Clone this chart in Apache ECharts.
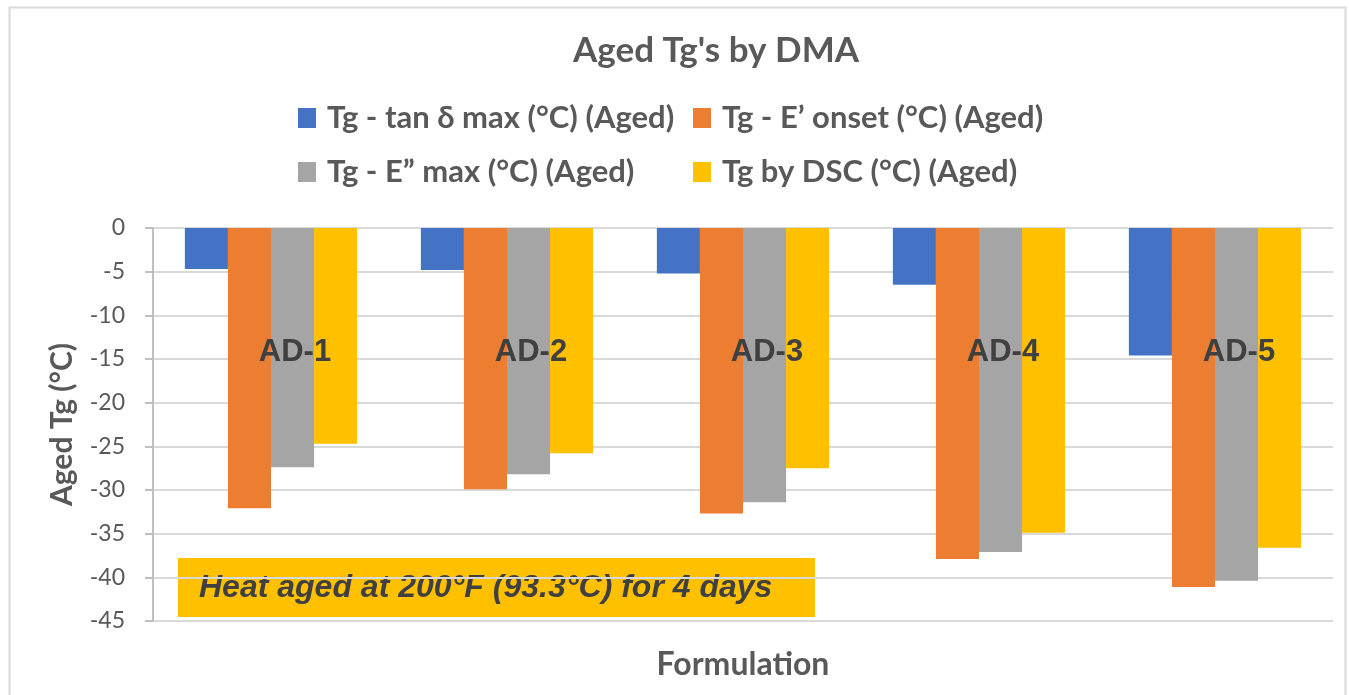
<!DOCTYPE html>
<html>
<head>
<meta charset="utf-8">
<title>Aged Tg's by DMA</title>
<script src="https://cdn.jsdelivr.net/npm/echarts@6/dist/echarts.min.js"></script>
<style>
  html, body { margin: 0; padding: 0; background: #fff; }
  #main { width: 1349px; height: 695px; }
</style>
</head>
<body>
<div id="main"></div>
<script>
// formulations (category axis)
var categories = ['AD-1', 'AD-2', 'AD-3', 'AD-4', 'AD-5'];

// series names
var seriesNames = [
  'Tg - tan δ max (°C) (Aged)',
  'Tg - E’ onset (°C) (Aged)',
  'Tg - E” max (°C) (Aged)',
  'Tg by DSC (°C) (Aged)'
];

// values
var tanDeltaMax = [-4.7, -4.8, -5.2, -6.5, -14.6];
var eOnset      = [-32.1, -29.9, -32.7, -37.9, -41.1];
var eDoubleMax  = [-27.4, -28.2, -31.4, -37.1, -40.4];
var dscTg       = [-24.7, -25.8, -27.5, -34.9, -36.6];

var yTicks = [0, -5, -10, -15, -20, -25, -30, -35, -40, -45];

var colors = ['#4472C4', '#ED7D31', '#A5A5A5', '#FFC000'];

var myChart = echarts.init(document.getElementById('main'));

var legendText = {
  fontFamily: 'Lato',
  fontWeight: 'bold',
  fontSize: 31,
  color: '#595959',
  lineHeight: 34,
  padding: [0, 0, 0, 6]
};

myChart.setOption({
  animation: false,
  color: colors,
  title: {
    text: "Aged Tg's by DMA",
    left: 573,
    top: 33,
    padding: 0,
    textStyle: {
      fontFamily: 'Lato',
      fontWeight: 'bold',
      fontSize: 35,
      color: '#595959'
    }
  },
  legend: [
    {
      data: [seriesNames[0], seriesNames[2]],
      orient: 'vertical',
      left: 298,
      top: 101,
      padding: 0,
      itemWidth: 18,
      itemHeight: 20,
      itemGap: 20,
      icon: 'rect',
      textStyle: legendText
    },
    {
      data: [seriesNames[1], seriesNames[3]],
      orient: 'vertical',
      left: 693,
      top: 101,
      padding: 0,
      itemWidth: 18,
      itemHeight: 20,
      itemGap: 20,
      icon: 'rect',
      textStyle: legendText
    }
  ],
  grid: {
    left: 153,
    right: 16,
    top: 228,
    bottom: 74
  },
  xAxis: [
    {
      // bottom axis: carries the name only
      type: 'category',
      data: categories,
      position: 'bottom',
      axisLine: { show: false, onZero: false },
      axisTick: { show: false },
      axisLabel: { show: false },
      name: 'Formulation',
      nameLocation: 'middle',
      nameGap: 28,
      nameTextStyle: {
        fontFamily: 'Lato',
        fontWeight: 'bold',
        fontSize: 32,
        color: '#595959'
      }
    },
    {
      // top axis: category labels drawn inside the plot, above the bars
      type: 'category',
      data: categories,
      position: 'top',
      z: 20,
      axisLine: { show: false, onZero: false },
      axisTick: { show: false },
      axisLabel: {
        inside: true,
        margin: 109,
        padding: [0, 0, 0, 48],
        fontFamily: 'Liberation Sans',
        fontWeight: 'bold',
        fontSize: 31,
        color: '#404040'
      }
    }
  ],
  yAxis: {
    type: 'value',
    min: yTicks[yTicks.length - 1],
    max: yTicks[0],
    interval: 5,
    axisLine: { show: true, lineStyle: { color: '#BFBFBF', width: 2 } },
    axisTick: { show: true, length: 8, lineStyle: { color: '#BFBFBF', width: 2 } },
    splitLine: { show: true, lineStyle: { color: '#D9D9D9', width: 2 } },
    axisLabel: {
      margin: 28,
      fontFamily: 'Lato',
      fontSize: 23,
      color: '#595959'
    },
    name: 'Aged Tg (°C)',
    nameLocation: 'middle',
    nameGap: 76,
    nameTextStyle: {
      fontFamily: 'Lato',
      fontWeight: 'bold',
      fontSize: 30,
      color: '#595959'
    }
  },
  series: [
    { name: seriesNames[0], type: 'bar', data: tanDeltaMax, barGap: '0%', barCategoryGap: '27%' },
    { name: seriesNames[1], type: 'bar', data: eOnset, barGap: '0%', barCategoryGap: '27%' },
    { name: seriesNames[2], type: 'bar', data: eDoubleMax, barGap: '0%', barCategoryGap: '27%' },
    { name: seriesNames[3], type: 'bar', data: dscTg, barGap: '0%', barCategoryGap: '27%' }
  ],
  graphic: [
    {
      type: 'rect',
      left: 7,
      top: 5,
      shape: { width: 1336, height: 720 },
      style: { fill: 'none', stroke: '#D9D9D9', lineWidth: 2 },
      silent: true,
      z: -10
    },
    {
      type: 'group',
      left: 178,
      top: 558,
      z: 100,
      children: [
        {
          type: 'rect',
          shape: { x: 0, y: 0, width: 637, height: 59 },
          style: { fill: '#FFC000' }
        },
        {
          type: 'text',
          x: 21,
          y: 30,
          style: {
            text: 'Heat aged at 200°F (93.3°C) for 4 days',
            fontFamily: 'Liberation Sans',
            fontWeight: 'bold',
            fontStyle: 'italic',
            fontSize: 32,
            fill: '#404040',
            verticalAlign: 'middle'
          }
        }
      ]
    }
  ]
});
</script>
</body>
</html>
